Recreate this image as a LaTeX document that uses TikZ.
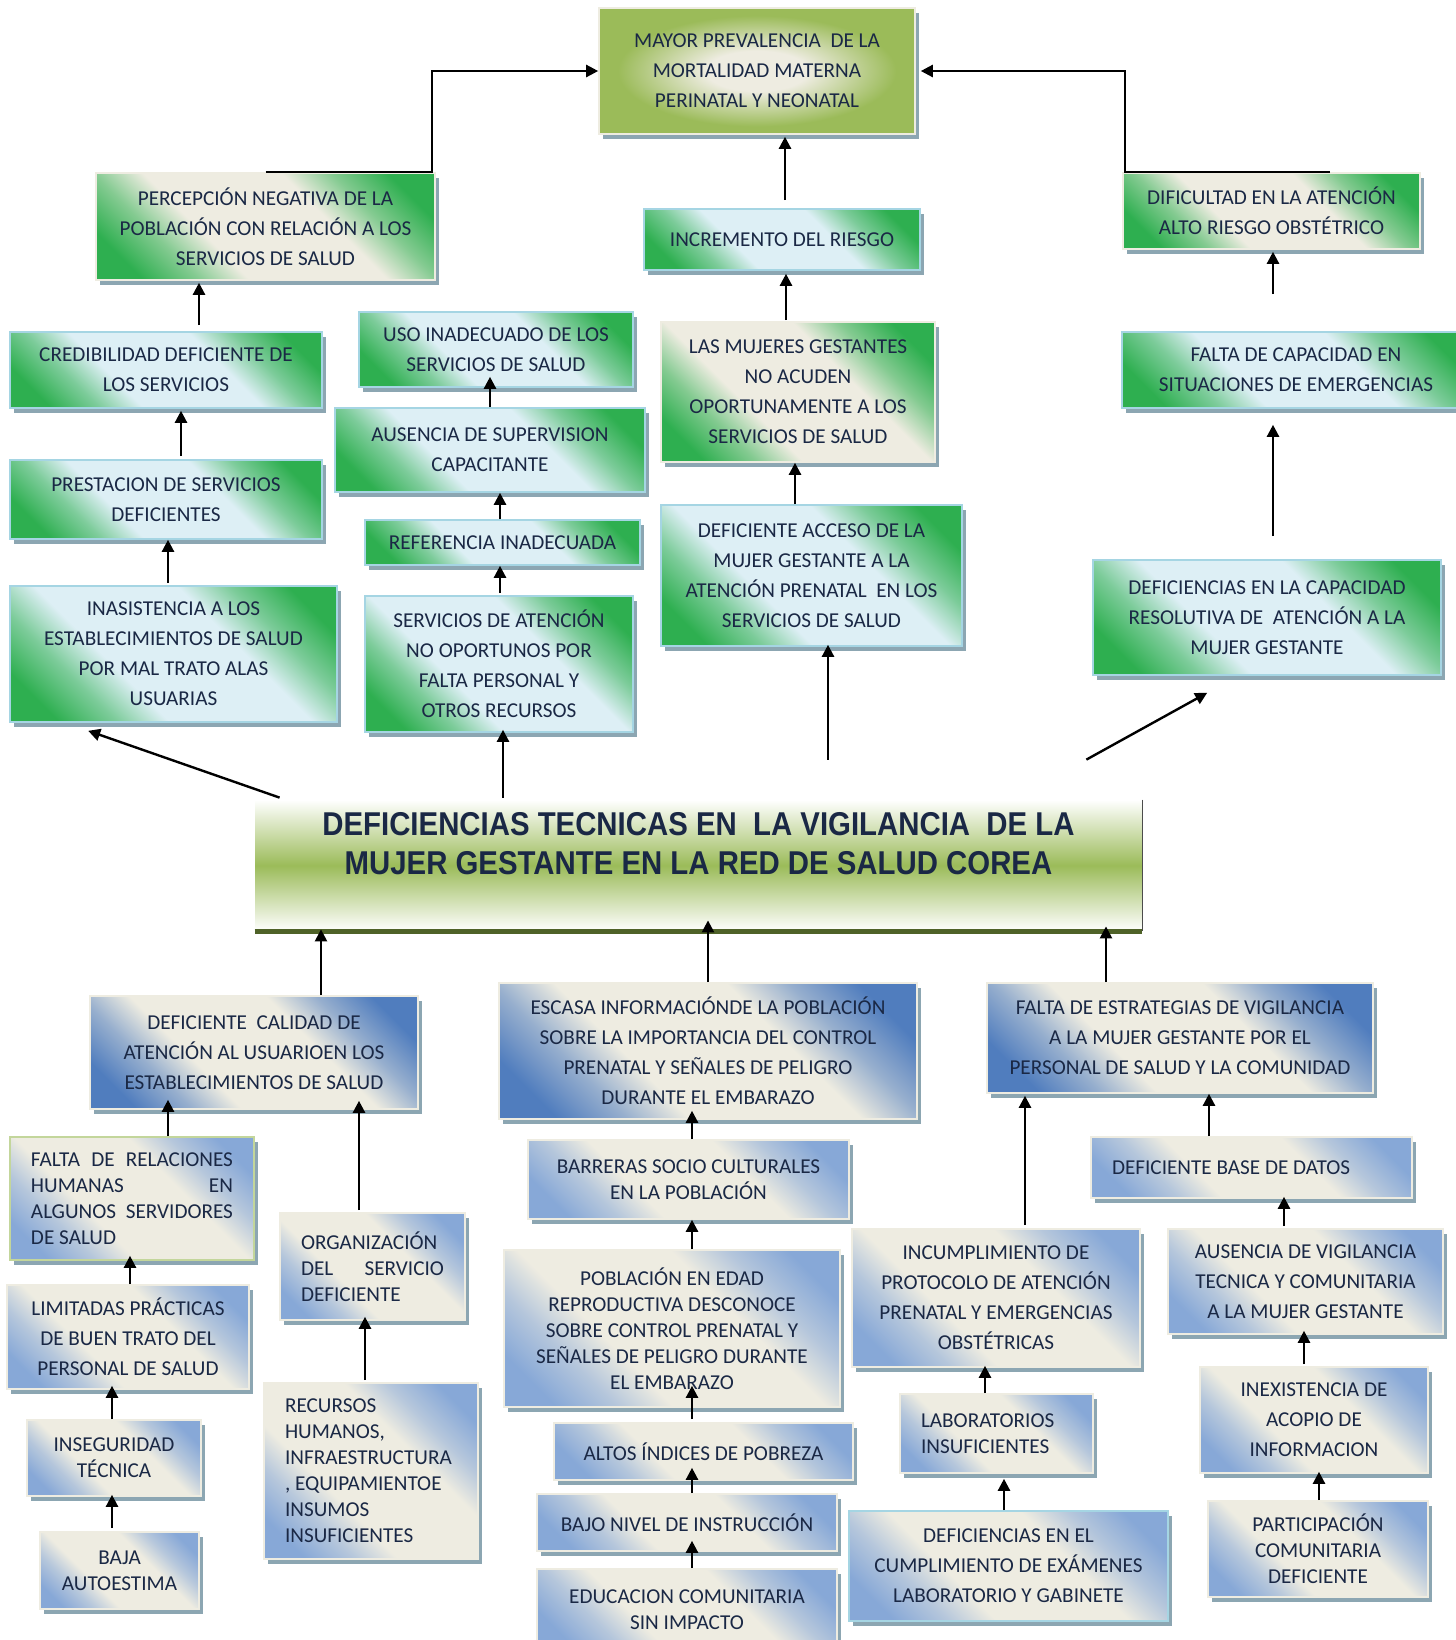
\documentclass[tikz,border=0pt]{standalone}
\usepackage{fontspec}
\setmainfont{Carlito}
\newfontfamily\titlefont[FakeStretch=0.89]{Liberation Sans}
\usetikzlibrary{arrows.meta, calc, shadows}

\definecolor{navy}{HTML}{1A2845}
\definecolor{cream}{HTML}{EEECE1}
\definecolor{paleblue}{HTML}{DDEFF5}
\definecolor{leafgreen}{RGB}{46,175,80}
\definecolor{olivegreen}{HTML}{9BBB59}
\definecolor{darkolive}{HTML}{4F6228}
\definecolor{skyblue}{RGB}{135,168,215}
\definecolor{steelblue}{RGB}{80,125,190}
\definecolor{cyanedge}{HTML}{A5D5E3}
\definecolor{limeedge}{HTML}{C3D69B}
\definecolor{shadowgray}{RGB}{140,166,178}

\pgfdeclareverticalshading{greenpale}{100bp}{color(0bp)=(leafgreen); color(22bp)=(leafgreen); color(31bp)=(leafgreen!55!paleblue); color(39bp)=(paleblue); color(61bp)=(paleblue); color(69bp)=(leafgreen!55!paleblue); color(78bp)=(leafgreen); color(100bp)=(leafgreen)}
\pgfdeclareverticalshading{greencream}{100bp}{color(0bp)=(leafgreen); color(22bp)=(leafgreen); color(31bp)=(leafgreen!55!cream); color(39bp)=(cream); color(61bp)=(cream); color(69bp)=(leafgreen!55!cream); color(78bp)=(leafgreen); color(100bp)=(leafgreen)}
\pgfdeclareverticalshading{bluecream}{100bp}{color(0bp)=(skyblue); color(22bp)=(skyblue); color(31bp)=(skyblue!55!cream); color(39bp)=(cream); color(61bp)=(cream); color(69bp)=(skyblue!55!cream); color(78bp)=(skyblue); color(100bp)=(skyblue)}
\pgfdeclareverticalshading{deepcream}{100bp}{color(0bp)=(steelblue); color(22bp)=(steelblue); color(31bp)=(steelblue!55!cream); color(39bp)=(cream); color(61bp)=(cream); color(69bp)=(steelblue!55!cream); color(78bp)=(steelblue); color(100bp)=(steelblue)}
\pgfdeclareradialshading{glow}{\pgfpoint{0bp}{0bp}}{color(0bp)=(cream); color(8bp)=(cream); color(22bp)=(olivegreen); color(50bp)=(olivegreen)}

\begin{document}
\begin{tikzpicture}[x=0.5pt, y=-0.5pt, >={Triangle[length=6pt,width=6pt]},
  every node/.style={font=\fontsize{10.6}{15}\selectfont, text=navy},
  conn/.style={->, line width=1.2pt},
  box/.style={rectangle, line width=0.8pt, align=center, inner sep=0pt,
    general shadow={fill=shadowgray, shadow xshift=2pt, shadow yshift=-2.5pt}},
  diag/.style={shade, shading=#1, shading angle=-45},
  greenbox/.style={box, draw=cyanedge, diag=greenpale},
  creambox/.style={box, draw=cream, diag=greencream},
  bluebox/.style={box, draw=cream, diag=bluecream},
  deepbox/.style={box, draw=cream, diag=deepcream},
  tight/.style={font=\fontsize{10.6}{13}\selectfont},
  leftbox/.style={align=flush left, inner xsep=10.5pt, text width=#1}]
  \useasboundingbox (0,0) rectangle (1456,1640);

  % effects
  \node[box, draw=cream, shade, shading=glow, minimum width=158pt, minimum height=63pt] (mayor) at (757,71) {MAYOR PREVALENCIA\ \ DE LA\\MORTALIDAD MATERNA\\PERINATAL Y NEONATAL};
  \node[creambox, minimum width=169.5pt, minimum height=53.5pt] (perc) at (265.5,226.5) {PERCEPCIÓN NEGATIVA DE LA\\POBLACIÓN CON RELACIÓN A LOS\\SERVICIOS DE SALUD};
  \node[creambox, minimum width=148.5pt, minimum height=38pt] (dific) at (1271.5,211) {DIFICULTAD EN LA ATENCIÓN\\ALTO RIESGO OBSTÉTRICO};
  \node[greenbox, minimum width=138pt, minimum height=30.5pt] (incr) at (782,239.5) {INCREMENTO DEL RIESGO};
  \node[greenbox, minimum width=156pt, minimum height=38pt] (cred) at (166,370) {CREDIBILIDAD DEFICIENTE DE\\LOS SERVICIOS};
  \node[greenbox, minimum width=137pt, minimum height=37.5pt] (uso) at (496,349.5) {USO INADECUADO DE LOS\\SERVICIOS DE SALUD};
  \node[creambox, minimum width=137pt, minimum height=70pt] (mujer) at (798,392) {LAS MUJERES GESTANTES\\NO ACUDEN\\OPORTUNAMENTE A LOS\\SERVICIOS DE SALUD};
  \node[greenbox, minimum width=174pt, minimum height=38pt] (falcap) at (1296,370) {FALTA DE CAPACIDAD EN\\SITUACIONES DE EMERGENCIAS};
  \node[greenbox, minimum width=155pt, minimum height=42pt] (ausup) at (490,450) {AUSENCIA DE SUPERVISION\\CAPACITANTE};
  \node[greenbox, minimum width=156pt, minimum height=39.5pt] (prest) at (166,499.5) {PRESTACION DE SERVICIOS\\DEFICIENTES};
  \node[greenbox, minimum width=137.5pt, minimum height=22.5pt] (refer) at (502.5,542.5) {REFERENCIA INADECUADA};
  \node[greenbox, minimum width=150.5pt, minimum height=70.5pt] (acceso) at (811.5,575.5) {DEFICIENTE ACCESO DE LA\\MUJER GESTANTE A LA\\ATENCIÓN PRENATAL\ \ EN LOS\\SERVICIOS DE SALUD};
  \node[greenbox, minimum width=174pt, minimum height=57.5pt] (defcap) at (1267,617.5) {DEFICIENCIAS EN LA CAPACIDAD\\RESOLUTIVA DE\ \ ATENCIÓN A LA\\MUJER GESTANTE};
  \node[greenbox, minimum width=163.5pt, minimum height=68pt] (inas) at (173.5,654) {INASISTENCIA A LOS\\ESTABLECIMIENTOS DE SALUD\\POR MAL TRATO ALAS\\USUARIAS};
  \node[greenbox, minimum width=134pt, minimum height=68pt] (servat) at (499,664) {SERVICIOS DE ATENCIÓN\\NO OPORTUNOS POR\\FALTA PERSONAL Y\\OTROS RECURSOS};

  % central problem
  \node[rectangle, inner sep=0pt, top color=white, bottom color=white, middle color=olivegreen, minimum width=443.5pt, minimum height=65.5pt, font=\titlefont\bfseries\fontsize{16.5}{19.5}\selectfont] (title) at (698.5,865.5) {\begin{tabular}{@{}c@{}}DEFICIENCIAS TECNICAS EN\ \ LA VIGILANCIA\ \ DE LA\\MUJER GESTANTE EN LA RED DE SALUD COREA\\[18pt]\end{tabular}};
  \draw[line width=2.5pt, darkolive] (title.south west) -- (title.south east);
  \draw[line width=0.6pt, black!70] (title.north east) -- (title.south east);

  % causes
  \node[deepbox, minimum width=164pt, minimum height=56.5pt] (calid) at (254,1052.5) {DEFICIENTE\ \ CALIDAD DE\\ATENCIÓN AL USUARIOEN LOS\\ESTABLECIMIENTOS DE SALUD};
  \node[deepbox, minimum width=209pt, minimum height=68pt] (escasa) at (708,1051) {ESCASA INFORMACIÓNDE LA POBLACIÓN\\SOBRE LA IMPORTANCIA DEL CONTROL\\PRENATAL Y SEÑALES DE PELIGRO\\DURANTE EL EMBARAZO};
  \node[deepbox, minimum width=193pt, minimum height=55pt] (festr) at (1180,1038) {FALTA DE ESTRATEGIAS DE VIGILANCIA\\A LA MUJER GESTANTE POR EL\\PERSONAL DE SALUD Y LA COMUNIDAD};
  \node[bluebox, draw=limeedge, tight, leftbox=101pt, minimum width=122pt, minimum height=61.5pt] (frel) at (132,1198.5) {\makebox[\hsize][s]{FALTA DE RELACIONES}\\\makebox[\hsize][s]{HUMANAS EN}\\\makebox[\hsize][s]{ALGUNOS SERVIDORES}\\DE SALUD};
  \node[bluebox, tight, leftbox=71.5pt, minimum width=92.5pt, minimum height=53.5pt] (org) at (372.5,1266.5) {ORGANIZACIÓN\\\makebox[\hsize][s]{DEL SERVICIO}\\DEFICIENTE};
  \node[bluebox, tight, minimum width=160.5pt, minimum height=39.5pt] (barr) at (688.5,1179.5) {BARRERAS SOCIO CULTURALES\\EN LA POBLACIÓN};
  \node[bluebox, leftbox=139.5pt, minimum width=160.5pt, minimum height=30.5pt] (bdatos) at (1251.5,1167.5) {DEFICIENTE BASE DE DATOS};
  \node[bluebox, minimum width=144pt, minimum height=69pt] (incump) at (996,1298) {INCUMPLIMIENTO DE\\PROTOCOLO DE ATENCIÓN\\PRENATAL Y EMERGENCIAS\\OBSTÉTRICAS};
  \node[bluebox, minimum width=137.5pt, minimum height=52.5pt] (ausvig) at (1305.5,1281.5) {AUSENCIA DE VIGILANCIA\\TECNICA Y COMUNITARIA\\A LA MUJER GESTANTE};
  \node[bluebox, minimum width=121pt, minimum height=52pt] (limit) at (128,1337) {LIMITADAS PRÁCTICAS\\DE BUEN TRATO DEL\\PERSONAL DE SALUD};
  \node[bluebox, tight, minimum width=168pt, minimum height=78.5pt] (pobl) at (672,1328.5) {POBLACIÓN EN EDAD\\REPRODUCTIVA DESCONOCE\\SOBRE CONTROL PRENATAL Y\\SEÑALES DE PELIGRO DURANTE\\EL EMBARAZO};
  \node[bluebox, tight, minimum width=87pt, minimum height=38pt] (inseg) at (114,1458) {INSEGURIDAD\\TÉCNICA};
  \node[bluebox, tight, leftbox=86pt, minimum width=107pt, minimum height=88pt] (recur) at (371,1471) {RECURSOS\\HUMANOS,\\INFRAESTRUCTURA\\, EQUIPAMIENTOE\\INSUMOS\\INSUFICIENTES};
  \node[bluebox, tight, leftbox=75.5pt, minimum width=96.5pt, minimum height=39.5pt] (labs) at (996.5,1433.5) {LABORATORIOS\\INSUFICIENTES};
  \node[bluebox, minimum width=114pt, minimum height=53pt] (inex) at (1314,1420) {INEXISTENCIA DE\\ACOPIO DE\\INFORMACION};
  \node[bluebox, minimum width=149.5pt, minimum height=28.5pt] (pobreza) at (703.5,1451.5) {ALTOS ÍNDICES DE POBREZA};
  \node[bluebox, minimum width=150pt, minimum height=28.5pt] (bajo) at (687,1522.5) {BAJO NIVEL DE INSTRUCCIÓN};
  \node[bluebox, draw=cyanedge, minimum width=159.5pt, minimum height=55pt] (defcump) at (1008.5,1566) {DEFICIENCIAS EN EL\\CUMPLIMIENTO DE EXÁMENES\\LABORATORIO Y GABINETE};
  \node[bluebox, tight, minimum width=110pt, minimum height=48pt] (partic) at (1318,1549) {PARTICIPACIÓN\\COMUNITARIA\\DEFICIENTE};
  \node[bluebox, tight, minimum width=79.5pt, minimum height=38.5pt] (baja) at (119.5,1570.5) {BAJA\\AUTOESTIMA};
  \node[bluebox, tight, minimum width=150pt, minimum height=41pt] (educ) at (687,1610) {EDUCACION COMUNITARIA\\SIN IMPACTO};

  % upper arrows
  \coordinate (bendL) at (432,71);
  \coordinate (bendR) at (1125,71);
  \draw[conn] (perc.north) -| (bendL) -- (mayor.west);
  \draw[conn] ($(dific.north)+(58.5,0)$) -| (bendR) -- ($(mayor.east)+(5,0)$);
  \draw[conn] ($(incr.north)+(3,-8)$) -- ($(mayor.south)+(28,2)$);
  \draw[conn] ($(mujer.north)+(-12,-1)$) -- ($(incr.south)+(4,3)$);
  \draw[conn] ($(cred.north)+(33,-6)$) -- ($(perc.south)+(-66.5,2)$);
  \draw[conn] ($(falcap.north)+(-23,-37)$) -- ($(dific.south)+(1.5,2)$);
  \draw[conn] (ausup.north) -- ($(uso.south)+(-6,-11)$);
  \draw[conn] ($(prest.north)+(15,-3)$) -- ($(cred.south)+(15,2)$);
  \draw[conn] ($(refer.north)+(-2.5,0)$) -- ($(ausup.south)+(10,0)$);
  \draw[conn] ($(acceso.north)+(-16.5,0)$) -- ($(mujer.south)+(-3,0)$);
  \draw[conn] ($(defcap.north)+(6,-23)$) -- ($(falcap.south)+(-23,16)$);
  \draw[conn] ($(inas.north)+(-5.5,-2)$) -- ($(prest.south)+(2,0)$);
  \draw[conn] ($(servat.north)+(1,-2)$) -- ($(refer.south)+(-2.5,0)$);
  \draw[conn] ($(title.north)+(-195.5,-2)$) -- ($(servat.south)+(4,-3)$);
  \draw[conn] ($(title.north)+(129.5,-40)$) -- ($(acceso.south)+(16.5,-2)$);
  \draw[conn] ($(title.north west)+(25,-2)$) -- ($(inas.south west)+(79,8)$);
  \draw[conn] ($(title.north east)+(-56,-40)$) -- ($(defcap.south west)+(115,17)$);

  % lower arrows
  \draw[conn] ($(calid.north)+(67,0)$) -- ($(title.south)+(-377.5,-2)$);
  \draw[conn] (escasa.north) -- ($(title.south)+(9.5,-11)$);
  \draw[conn] ($(festr.north)+(-74,0)$) -- ($(title.south)+(407.5,-5)$);
  \draw[conn] ($(frel.north)+(36,0)$) -- ($(calid.south)+(-86,-10)$);
  \draw[conn] ($(org.north)+(-13.5,-2)$) -- ($(calid.south)+(105,-9)$);
  \draw[conn] ($(barr.north)+(3.5,0)$) -- ($(escasa.south)+(-16,-9)$);
  \draw[conn] ($(bdatos.north)+(-42.5,0)$) -- ($(festr.south)+(29,0)$);
  \draw[conn] ($(incump.north)+(29,-3)$) -- ($(festr.south)+(-155,2)$);
  \draw[conn] ($(ausvig.north)+(-21.5,-2)$) -- ($(bdatos.south)+(32.5,-2)$);
  \draw[conn] ($(limit.north)+(2,0)$) -- ($(frel.south)+(-2,-5)$);
  \draw[conn] ($(pobl.north)+(20,0)$) -- ($(barr.south)+(3.5,0)$);
  \draw[conn] ($(inseg.north)+(-2,0)$) -- ($(limit.south)+(-16,-4)$);
  \draw[conn] ($(recur.north)+(-6,-2)$) -- ($(org.south)+(-7.5,-4)$);
  \draw[conn] ($(labs.north)+(-11.5,0)$) -- ($(incump.south)+(-11,-2)$);
  \draw[conn] ($(inex.north)+(-10,-2)$) -- ($(ausvig.south)+(-1.5,-4)$);
  \draw[conn] ($(pobreza.north)+(-11.5,-3)$) -- ($(pobl.south)+(20,-22)$);
  \draw[conn] ($(bajo.north)+(5,0)$) -- ($(pobreza.south)+(-11.5,-13)$);
  \draw[conn] ($(defcump.north)+(-4.5,0)$) -- ($(labs.south)+(7.5,5)$);
  \draw[conn] ($(partic.north)+(1,0)$) -- ($(inex.south)+(5,-2)$);
  \draw[conn] ($(baja.north)+(-7.5,-3)$) -- ($(inseg.south)+(-2,-2)$);
  \draw[conn] ($(educ.north)+(5,0)$) -- ($(bajo.south)+(5,-11)$);
\end{tikzpicture}
\end{document}
